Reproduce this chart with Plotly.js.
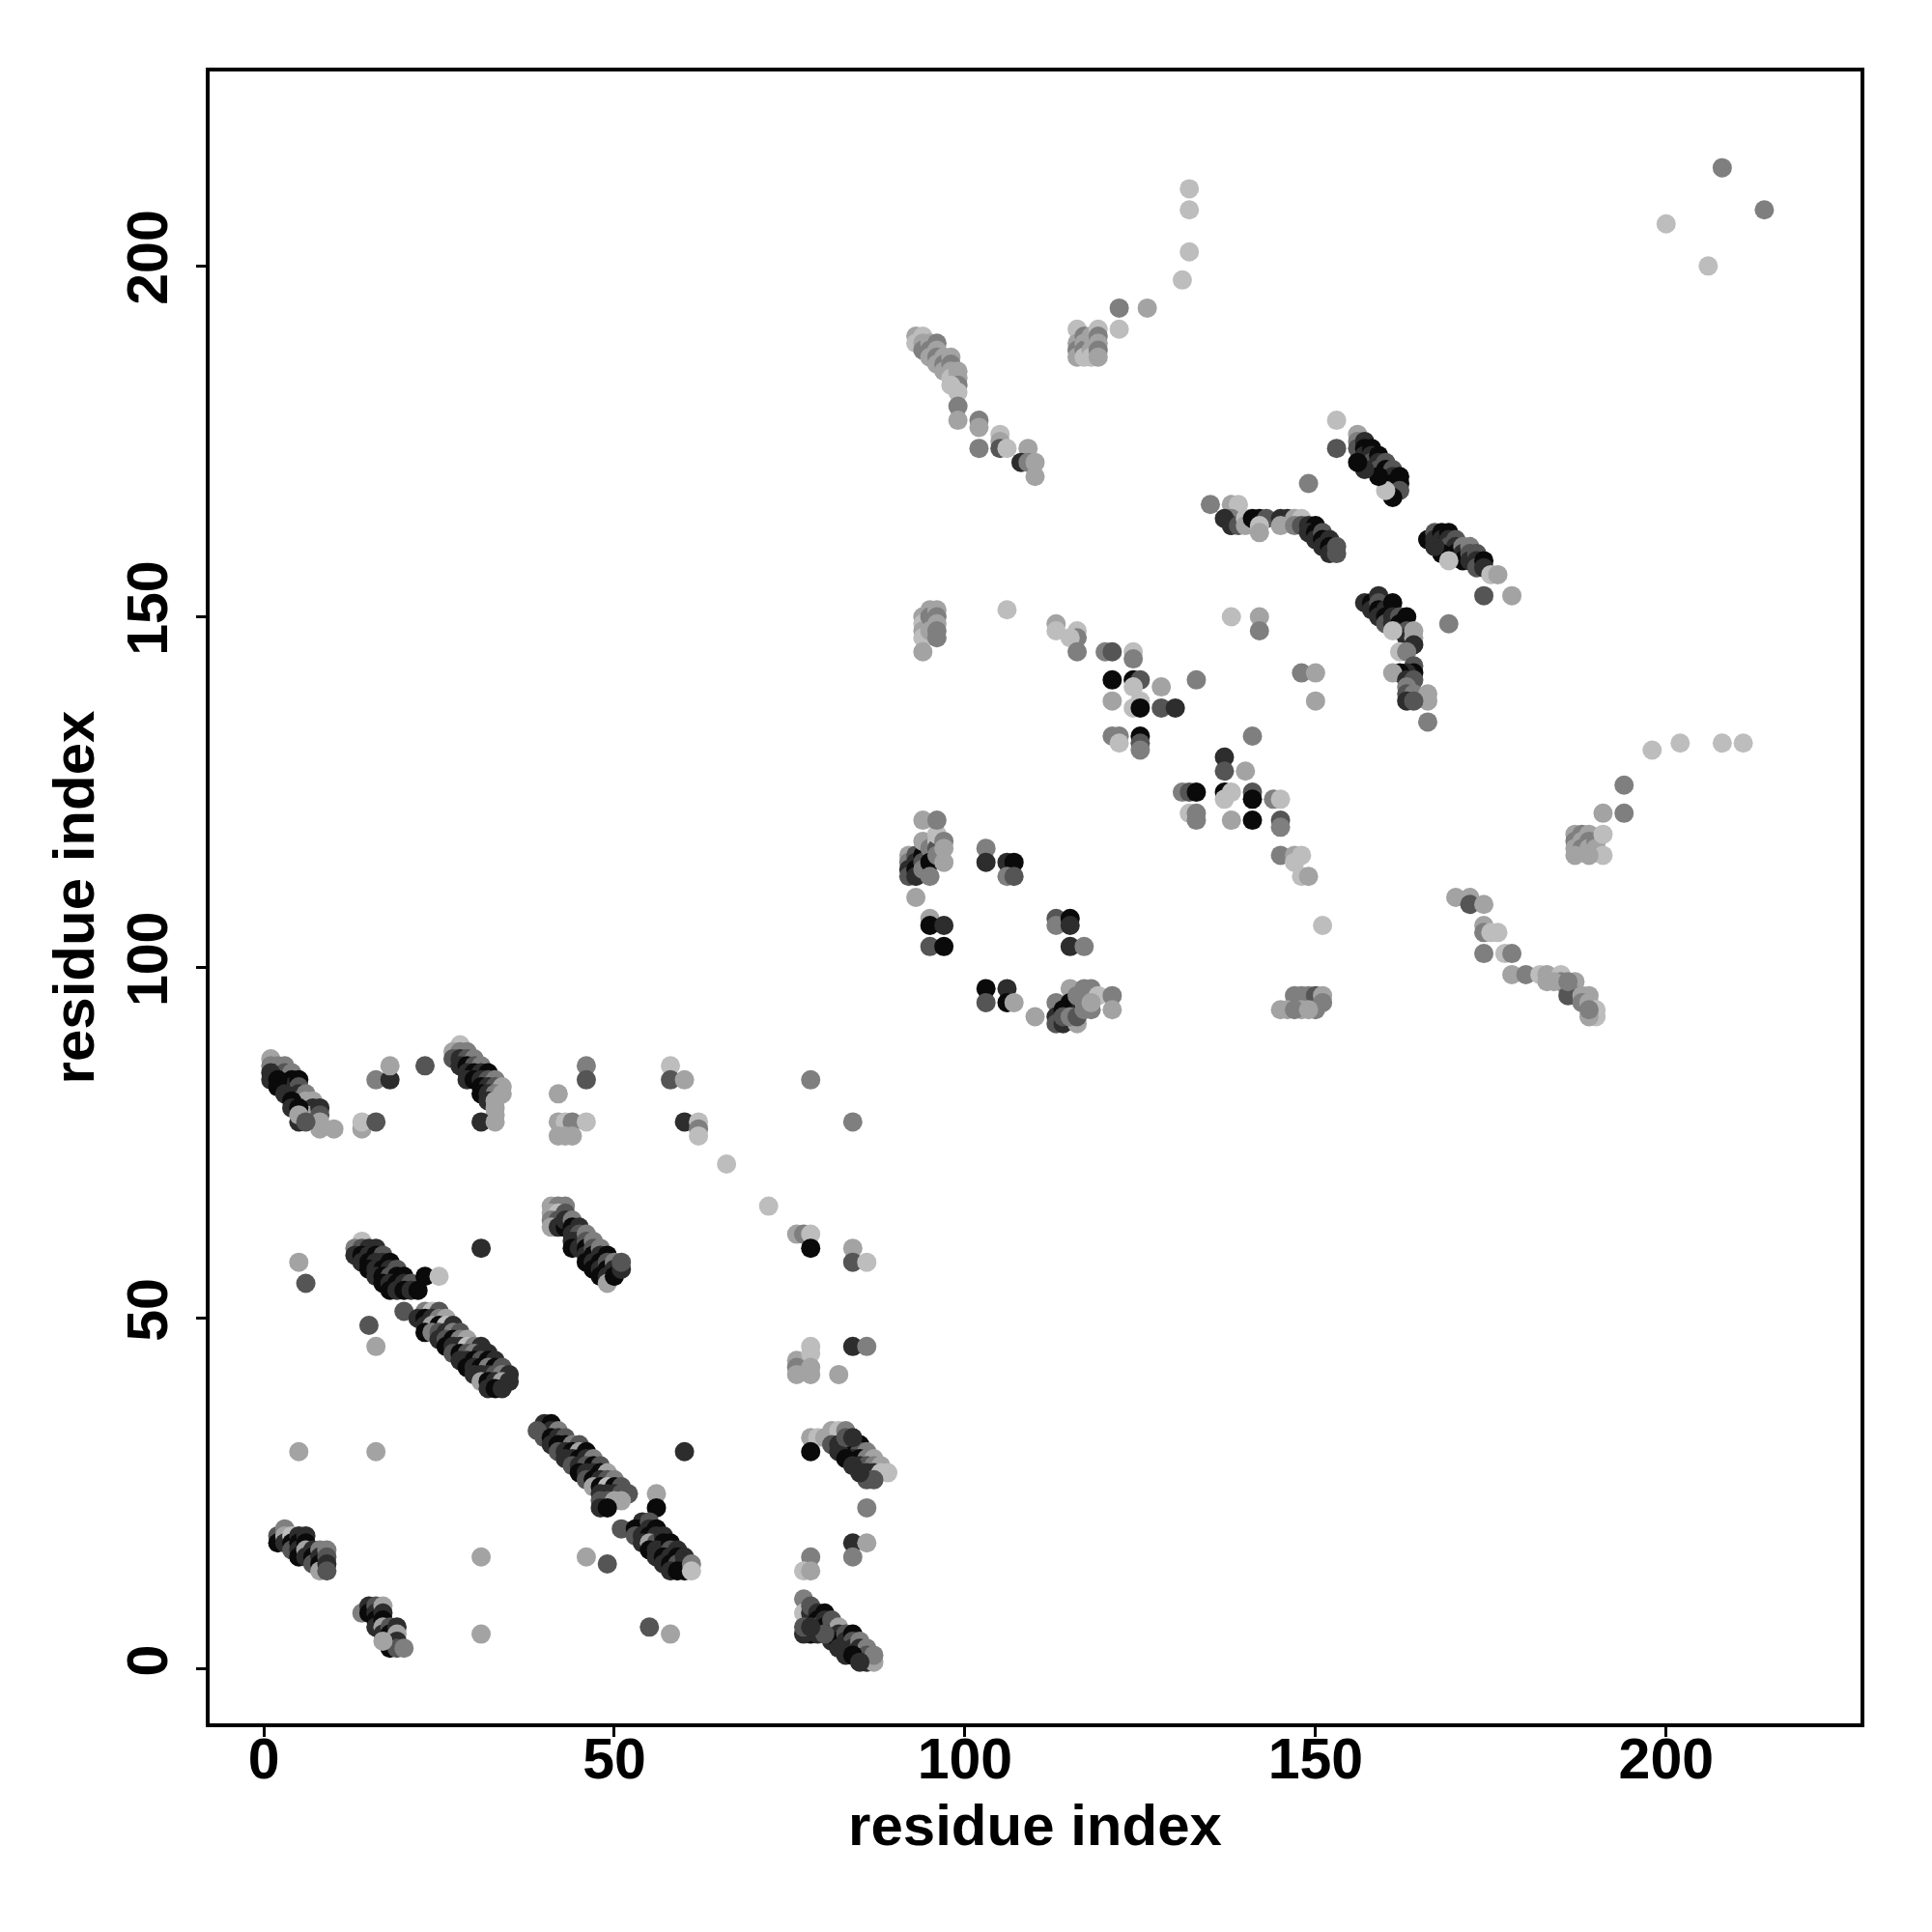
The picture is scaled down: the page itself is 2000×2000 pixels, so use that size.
<!DOCTYPE html>
<html>
<head>
<meta charset="utf-8">
<script src="https://cdn.plot.ly/plotly-3.0.1.min.js"></script>
<style>html,body{margin:0;padding:0;background:#fff;}#plot{width:2000px;height:2000px;}</style>
</head>
<body>
<div id="plot"></div>
<script>
// Contacts as [residue i, residue j, shade level]; shade 0 = black ... 5 = lightest grey
const grayLevels = ['#0a0a0a', '#2d2d2d', '#555555', '#7f7f7f', '#a3a3a3', '#bdbdbd'];
const tickValues = [0, 50, 100, 150, 200];
const axisTitle = 'residue index';

const clusterA = [[1,87,4],[1,86,3],[2,86,3],[2,85,1],[3,86,3],[3,85,2],[3,84,1],[3,83,0],[4,85,3],[4,84,0],[4,83,1],[4,82,0],[5,84,0],[5,83,2],[5,82,1],[5,81,4],[6,82,3],[6,81,4],[6,80,1],[7,81,4],[7,80,1],[7,79,2],[6,79,4],[5,78,1],[8,80,1],[8,79,2],[8,78,4],[8,77,4],[10,77,4],[1,85,1],[1,84,1],[2,84,0],[2,83,0],[3,82,1],[4,81,0],[4,80,1],[5,80,0],[5,79,4],[6,78,2]];
const clusterB = [[14,77,4],[14,78,5],[16,78,2],[16,84,3],[18,84,1],[18,86,4],[23,86,2]];
const clusterC = [[28,89,5],[27,88,4],[28,88,3],[29,88,3],[27,87,2],[28,87,1],[29,87,2],[30,87,3],[28,86,1],[29,86,0],[30,86,2],[31,86,3],[29,85,1],[30,85,0],[31,85,1],[32,85,0],[29,84,1],[30,84,0],[31,84,1],[32,84,2],[33,84,3],[31,83,0],[32,83,1],[33,83,2],[34,83,4],[31,82,0],[32,82,1],[33,82,3],[34,82,4],[32,81,1],[33,81,4],[33,80,4],[33,79,4],[31,78,1],[33,78,4]];
const clusterD = [[42,82,4],[42,78,4],[43,78,5],[44,78,3],[46,78,5],[42,76,4],[43,76,4],[44,76,4],[46,86,3],[46,84,2],[58,86,5],[58,84,2],[60,84,4],[60,78,1],[62,78,5],[62,77,3],[62,76,5],[66,72,5],[72,66,5],[78,84,3],[84,78,3],[76,62,4],[77,62,3],[78,62,5],[78,60,0],[84,60,4],[84,58,2],[86,58,5]];
const clusterE = [[41,66,4],[42,66,3],[43,66,3],[41,65,4],[42,65,5],[41,64,3],[42,64,2],[43,65,2],[41,63,4],[42,63,1],[43,63,0],[43,64,1],[44,64,3],[44,63,0],[44,62,1],[45,63,1],[45,62,2],[45,61,0],[44,61,1],[44,60,0],[45,60,1],[46,62,3],[46,61,2],[46,60,0],[46,59,1],[46,58,0],[47,61,3],[47,60,2],[47,59,0],[47,58,1],[47,57,0],[48,60,3],[48,59,1],[48,58,0],[48,57,1],[48,56,0],[49,59,0],[49,58,2],[49,57,0],[49,56,1],[49,55,4],[50,58,3],[50,57,1],[50,56,0],[51,57,1],[51,58,2]];
const clusterF = [[14,61,5],[13,60,3],[14,60,2],[15,60,1],[16,60,1],[13,59,1],[14,59,0],[15,59,1],[16,59,0],[17,59,2],[14,58,1],[15,58,0],[16,58,1],[17,58,1],[18,58,0],[15,57,0],[16,57,1],[17,57,0],[18,57,1],[19,57,2],[16,56,1],[17,56,0],[18,56,2],[19,56,0],[20,56,0],[17,55,0],[18,55,1],[19,55,0],[20,55,1],[21,55,2],[18,54,0],[19,54,1],[20,54,0],[21,54,1],[22,54,0],[23,56,0],[25,56,5],[31,60,1],[5,58,4],[6,55,2],[20,51,2],[15,49,2],[16,46,4]];
const clusterG = [[23,51,3],[24,51,5],[25,51,2],[22,50,1],[23,50,0],[24,50,1],[25,50,3],[26,50,4],[23,49,1],[24,49,4],[25,49,0],[26,49,5],[27,49,1],[23,48,0],[24,48,3],[25,48,2],[26,48,1],[27,48,3],[28,48,2],[25,47,1],[26,47,2],[27,47,0],[28,47,3],[29,47,4],[26,46,0],[27,46,1],[28,46,1],[29,46,5],[30,46,3],[31,46,1],[27,45,2],[28,45,0],[29,45,2],[30,45,3],[31,45,1],[32,45,1],[28,44,1],[29,44,1],[30,44,0],[31,44,2],[32,44,0],[33,44,1],[29,43,0],[30,43,1],[31,43,0],[32,43,3],[33,43,0],[34,43,2],[30,42,1],[31,42,1],[32,42,1],[33,42,2],[34,42,3],[35,42,1],[31,41,4],[32,41,0],[33,41,1],[34,41,4],[35,41,1],[32,40,1],[33,40,0],[34,40,1]];
const clusterH = [[40,35,1],[41,35,0],[40,34,0],[41,34,1],[42,34,3],[39,34,2],[40,33,2],[41,33,0],[42,33,1],[43,33,2],[41,32,1],[42,32,0],[43,32,0],[44,32,3],[45,32,2],[42,31,2],[43,31,1],[44,31,0],[45,31,4],[46,31,0],[43,30,1],[44,30,1],[45,30,0],[46,30,1],[47,30,3],[44,29,2],[45,29,1],[46,29,2],[47,29,0],[48,29,2],[45,28,0],[46,28,1],[47,28,1],[48,28,0],[49,28,4],[46,27,2],[47,27,0],[48,27,1],[49,27,2],[50,27,3],[47,26,4],[48,26,0],[49,26,5],[50,26,0],[51,26,2],[48,25,1],[49,25,1],[50,25,1],[51,25,2],[52,25,2],[48,24,2],[49,24,2],[50,24,4],[51,24,4],[48,23,1],[49,23,0],[51,20,2],[49,15,2],[46,16,4],[56,25,4],[56,23,0],[60,31,1],[55,6,2],[58,5,4]];
const clusterI = [[54,21,1],[53,20,0],[54,20,0],[55,21,2],[55,20,1],[53,19,2],[54,19,1],[55,19,0],[56,20,0],[56,19,1],[54,18,1],[55,18,4],[56,18,2],[57,19,1],[57,18,0],[55,17,0],[56,17,1],[57,17,1],[58,18,0],[58,17,2],[56,16,1],[57,16,0],[58,16,1],[59,17,1],[59,16,0],[57,15,1],[58,15,0],[59,15,2],[60,16,1],[60,15,1],[58,14,1],[59,14,0],[60,14,0],[61,15,3],[61,14,5]];
const clusterJ = [[78,33,4],[79,33,5],[80,33,4],[81,34,4],[82,34,5],[83,34,3],[78,31,0],[81,32,2],[82,32,1],[83,32,0],[84,32,1],[85,32,0],[83,31,1],[84,31,0],[85,31,2],[86,31,3],[84,30,1],[85,30,0],[86,30,3],[87,30,4],[85,29,1],[86,29,2],[87,29,3],[88,29,4],[86,28,1],[87,28,1],[88,28,5],[89,28,5],[86,27,2],[87,27,2],[82,31,1],[83,30,0],[84,29,1],[85,28,1],[83,33,2],[84,33,1],[86,23,3],[84,18,1],[86,18,4],[84,16,3],[78,16,3],[77,14,5],[78,14,4]];
const clusterK = [[77,10,3],[77,8,5],[78,8,1],[78,9,2],[79,8,1],[79,7,0],[79,6,4],[80,8,0],[80,7,1],[80,6,0],[81,7,2],[81,6,2],[81,5,0],[81,4,1],[82,6,4],[82,5,1],[82,4,0],[83,5,2],[83,4,1],[83,3,0],[84,5,0],[84,4,2],[84,3,1],[85,4,3],[85,3,1],[85,2,0],[86,3,3],[86,2,2],[86,1,1],[87,1,4],[87,2,3],[78,5,0],[79,5,1],[80,5,2],[82,3,1],[83,2,1],[84,2,0],[85,1,1],[77,5,1],[77,6,2],[78,6,1]];
const clusterL = [[2,19,2],[2,18,0],[3,20,3],[3,19,4],[3,18,1],[4,19,5],[4,18,0],[4,17,2],[5,19,1],[5,18,0],[5,17,1],[5,16,0],[6,19,1],[6,18,0],[6,17,4],[6,16,1],[7,17,1],[7,16,0],[7,15,2],[8,17,3],[8,16,1],[8,15,0],[8,14,4],[9,17,3],[9,16,2],[9,15,1],[9,14,2]];
const clusterM = [[14,8,3],[15,9,1],[15,8,0],[16,9,2],[16,8,1],[16,7,0],[17,9,4],[17,8,1],[16,6,1],[17,7,0],[17,6,4],[17,5,1],[18,6,2],[18,5,0],[18,4,1],[19,6,1],[19,5,4],[19,4,1],[18,3,0],[19,3,2],[20,3,3],[17,4,4]];
const lowerSingles = [[5,31,4],[16,31,4],[31,16,4],[31,5,4],[78,46,5],[84,46,1],[86,46,3],[76,44,4],[76,43,3],[76,42,4],[78,45,5],[78,43,4],[78,42,4],[82,42,4]];

const upperU1 = [[94,150,4],[94,149,5],[94,148,4],[94,147,5],[94,145,4],[95,151,4],[95,150,3],[95,148,4],[96,151,4],[96,150,3],[96,149,4],[96,148,3],[96,147,3],[106,151,5],[113,149,4],[113,148,5],[116,148,5],[116,147,3],[115,147,5],[116,145,3],[120,145,3],[121,145,2],[124,145,5],[124,144,3],[138,150,5],[142,150,4],[142,148,3]];
const upperU2 = [[121,141,0],[124,141,0],[125,141,2],[124,140,5],[128,140,4],[133,141,3],[121,138,4],[124,137,5],[125,138,5],[125,137,0],[128,137,2],[130,137,1],[121,133,3],[122,133,3],[122,132,5],[125,133,0],[125,132,2],[125,131,3],[141,133,3],[137,130,1],[137,128,2],[140,128,4],[131,125,3],[132,125,2],[133,125,0],[137,125,0],[138,125,5],[141,125,2],[141,124,0],[144,124,3],[145,124,5],[132,122,5],[133,122,3],[133,121,3],[137,124,5],[138,121,4],[141,121,0],[145,121,2],[145,120,3],[145,116,3],[147,116,4],[148,116,5],[147,115,5],[148,113,5],[149,113,4],[151,106,5],[148,142,3],[150,142,4],[150,138,4]];
const upperU3 = [[92,116,4],[92,115,3],[92,114,1],[92,113,2],[93,116,2],[93,115,1],[93,114,0],[93,113,1],[94,116,0],[94,115,2],[94,114,3],[94,118,4],[95,117,3],[95,115,0],[95,113,3],[96,118,5],[96,117,2],[96,116,3],[96,119,5],[97,118,3],[97,117,4],[97,115,4],[94,121,4],[96,121,3],[93,110,4],[95,107,4],[95,106,0],[97,106,1],[95,103,2],[97,103,0]];
const upperU4 = [[103,117,3],[103,115,1],[106,115,1],[107,115,0],[106,113,3],[107,113,2],[113,107,2],[113,106,3],[115,107,0],[115,106,1],[115,103,1],[117,103,3],[103,97,0],[103,95,2],[106,97,1],[106,95,0],[107,95,4],[110,93,4]];
const upperU5 = [[113,95,3],[113,93,1],[113,92,2],[114,92,1],[115,97,4],[115,95,0],[116,92,4],[117,97,3],[118,97,3],[119,96,5],[118,94,3],[121,96,3],[121,94,4],[116,94,1],[114,94,0],[114,93,2],[115,93,3],[116,93,2],[117,95,4],[117,94,3],[116,96,3],[118,95,4]];
const upperU6 = [[145,94,4],[147,96,3],[148,96,3],[149,96,3],[150,96,2],[151,96,4],[148,94,4],[150,94,3],[151,95,3],[146,94,4],[147,94,3],[149,94,4]];
const upperU7 = [[157,152,1],[158,152,0],[158,151,1],[159,153,1],[159,152,2],[159,151,0],[159,150,1],[160,151,1],[160,150,0],[160,149,2],[161,152,0],[161,150,1],[161,149,1],[162,150,2],[162,149,0],[162,148,1],[163,150,0],[163,148,2],[163,147,1],[164,148,4],[164,147,4],[164,146,1],[162,145,5],[163,145,3],[164,143,2],[164,142,0],[163,142,1],[162,142,0],[161,142,4],[163,141,1],[164,141,2],[163,140,3],[163,139,2],[164,139,3],[166,139,4],[166,138,4],[163,138,1],[164,138,2],[166,135,3],[161,148,5],[169,149,3],[174,153,2],[178,153,4]];
const upperU8 = [[198,131,5],[202,132,5],[208,132,5],[211,132,5],[194,126,3],[191,122,4],[194,122,3]];
const upperU9 = [[187,119,4],[187,118,3],[187,117,4],[188,119,3],[188,118,4],[188,117,3],[189,119,4],[189,118,3],[189,117,4],[190,118,3],[190,117,4],[191,119,5],[191,116,5],[189,116,4],[187,116,4]];
const upperU10 = [[170,110,4],[172,110,4],[172,109,2],[174,109,4],[174,106,4],[174,105,3],[175,105,5],[176,105,5],[174,102,3],[177,102,5],[178,102,3],[178,99,4],[180,99,3],[182,99,5],[183,99,4],[185,99,5],[183,98,4],[185,98,3],[187,98,4],[186,97,3],[187,96,3],[186,96,2],[188,96,4],[189,96,4],[188,95,3],[189,95,4],[190,94,5],[190,93,5],[189,93,4],[189,94,3],[184,98,4],[186,98,3]];
const upperU11 = [[132,211,5],[132,208,5],[132,202,5],[131,198,5],[122,194,3],[126,194,4],[122,191,5]];
const upperU12 = [[116,191,5],[116,189,4],[116,188,3],[116,187,4],[117,190,3],[117,189,4],[117,188,3],[117,187,5],[118,190,4],[118,188,4],[118,187,5],[119,191,5],[119,190,3],[119,189,4],[119,188,3],[119,187,4]];
const upperU13 = [[93,190,4],[93,189,5],[94,190,5],[94,189,4],[94,188,3],[95,189,4],[95,188,3],[95,187,4],[96,189,3],[96,188,4],[96,187,3],[96,186,4],[97,187,4],[97,186,3],[97,185,4],[98,187,4],[98,186,3],[98,185,4],[98,184,5],[99,185,4],[99,184,4],[99,183,3],[99,182,5],[99,180,3],[99,178,4],[102,178,3],[102,177,4],[102,174,3],[105,176,5],[105,175,4],[105,174,2],[106,174,5],[109,174,4],[108,172,1],[109,172,3],[110,172,4],[110,170,4],[98,183,5]];
const upperU14 = [[135,166,3],[138,166,4],[139,166,5],[138,164,3],[137,164,1],[138,163,1],[139,163,2],[140,164,5],[140,163,4],[141,164,0],[142,164,0],[143,164,2],[142,163,5],[142,162,4],[145,164,1],[146,164,1],[147,164,4],[148,164,5],[145,163,4],[147,163,3],[148,163,2],[149,163,1],[150,163,0],[149,162,1],[150,162,0],[150,161,1],[151,162,2],[151,161,0],[151,160,1],[152,161,1],[152,160,0],[152,159,1],[153,160,2],[153,159,2],[149,169,3],[153,178,5],[153,174,2]];
const upperU15 = [[208,214,3],[214,208,3],[200,206,5],[206,200,5]];
const upperU16 = [[156,176,4],[156,175,3],[156,174,2],[157,175,1],[157,174,0],[157,173,1],[158,174,0],[158,173,1],[158,172,2],[159,173,0],[159,172,1],[159,171,2],[160,172,2],[160,171,0],[160,170,1],[161,171,2],[161,170,1],[161,169,0],[161,168,1],[162,170,0],[162,169,0],[162,168,2],[161,167,0],[160,168,5],[159,170,0],[157,171,1],[156,172,0]];
const upperU17 = [[166,161,0],[167,162,2],[167,161,1],[168,162,0],[168,161,1],[168,160,0],[169,162,0],[169,161,1],[169,160,2],[170,161,2],[170,160,1],[170,159,0],[171,160,3],[171,159,1],[171,158,0],[172,160,3],[172,159,2],[172,158,1],[173,159,2],[173,158,1],[173,157,2],[174,158,0],[174,157,1],[175,156,5],[176,156,4],[168,159,0],[169,158,5],[167,160,1]];

const contacts = [].concat(clusterA, clusterB, clusterC, clusterD, clusterE, clusterF, clusterG,
  clusterH, clusterI, clusterJ, clusterK, clusterL, clusterM, lowerSingles,
  upperU1, upperU2, upperU3, upperU4, upperU5, upperU6, upperU7, upperU8, upperU9,
  upperU10, upperU11, upperU12, upperU13, upperU14, upperU15, upperU16, upperU17);

const trace = {
  type: 'scatter',
  mode: 'markers',
  x: contacts.map(p => p[0]),
  y: contacts.map(p => p[1]),
  marker: {
    size: 20,
    color: contacts.map(p => grayLevels[p[2]]),
    line: {width: 0}
  },
  hoverinfo: 'skip'
};

const fontFamily = '"Liberation Sans", Arial, Helvetica, sans-serif';
const axisCommon = {
  range: [-7.72, 227.72],
  tickmode: 'array',
  tickvals: tickValues,
  ticktext: tickValues.map(String),
  ticks: 'outside',
  ticklen: 10,
  tickwidth: 3,
  tickcolor: '#000',
  showline: true,
  mirror: true,
  linewidth: 4,
  linecolor: '#000',
  showgrid: false,
  zeroline: false,
  automargin: false,
  tickfont: {family: fontFamily, size: 59, color: '#000', weight: 'bold'}
};

const layout = {
  width: 2000,
  height: 2000,
  margin: {l: 217, r: 74, t: 74, b: 216},
  paper_bgcolor: '#fff',
  plot_bgcolor: '#fff',
  showlegend: false,
  xaxis: Object.assign({}, axisCommon, {
    ticklabelstandoff: -28,
    title: {text: axisTitle, standoff: 16, font: {family: fontFamily, size: 60, color: '#000', weight: 'bold'}}
  }),
  yaxis: Object.assign({}, axisCommon, {
    tickangle: -90,
    ticklabelstandoff: 6,
    title: {text: axisTitle, standoff: 4, font: {family: fontFamily, size: 60, color: '#000', weight: 'bold'}}
  })
};

Plotly.newPlot('plot', [trace], layout, {staticPlot: true, displayModeBar: false});
</script>
</body>
</html>
